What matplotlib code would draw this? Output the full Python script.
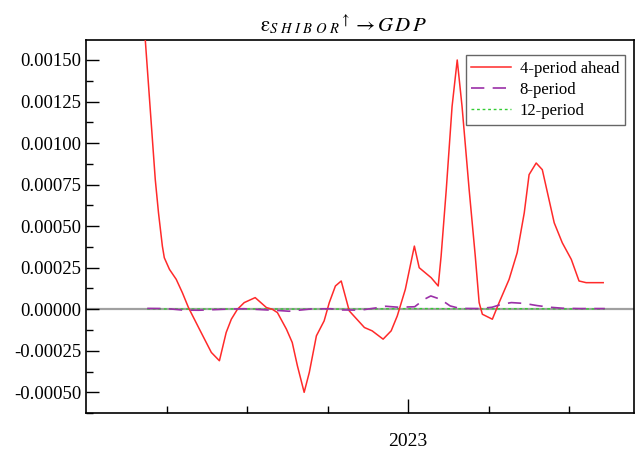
import numpy as np
import matplotlib
matplotlib.use("Agg")
import matplotlib.pyplot as plt

plt.rcParams["font.family"] = ["Liberation Serif", "DejaVu Serif"]
plt.rcParams["mathtext.fontset"] = "stix"

# 4-period ahead response (decimal year, value)
t_4 = [2022.178, 2022.184, 2022.215, 2022.225, 2022.237, 2022.243, 2022.259,
       2022.280, 2022.299, 2022.318, 2022.352, 2022.389, 2022.414, 2022.435,
       2022.451, 2022.470, 2022.491, 2022.525, 2022.560, 2022.578, 2022.594,
       2022.622, 2022.640, 2022.656, 2022.677, 2022.693, 2022.715, 2022.739,
       2022.755, 2022.774, 2022.792, 2022.817, 2022.864, 2022.888, 2022.922,
       2022.947, 2022.966, 2022.991, 2023.019, 2023.034, 2023.071, 2023.093,
       2023.102, 2023.118, 2023.136, 2023.152, 2023.167, 2023.189, 2023.208,
       2023.220, 2023.230, 2023.261, 2023.282, 2023.313, 2023.338, 2023.360,
       2023.375, 2023.397, 2023.416, 2023.453, 2023.478, 2023.506, 2023.530,
       2023.552, 2023.605]
v_4 = [0.00180, 0.00162, 0.00078, 0.00058, 0.00038, 0.00031, 0.00024,
       0.00018, 0.00010, 0.00001, -0.00012, -0.00026, -0.00031, -0.00014,
       -0.00006, 0.00000, 0.00004, 0.00007, 0.00001, 0.00000, -0.00002,
       -0.00012, -0.00020, -0.00034, -0.00050, -0.00038, -0.00016, -0.00007,
       0.00004, 0.00014, 0.00017, -0.00001, -0.00011, -0.00013, -0.00018,
       -0.00013, -0.00004, 0.00012, 0.00038, 0.00025, 0.00019, 0.00014,
       0.00032, 0.00072, 0.00122, 0.00150, 0.00122, 0.00072, 0.00032,
       0.00004, -0.00003, -0.00006, 0.00004, 0.00018, 0.00034, 0.00058,
       0.00081, 0.00088, 0.00084, 0.00052, 0.00040, 0.00030, 0.00017,
       0.00016, 0.00016]

# 8-period response
t_8 = [2022.19, 2022.25, 2022.30, 2022.35, 2022.43, 2022.49, 2022.56, 2022.60,
       2022.63, 2022.66, 2022.70, 2022.76, 2022.79, 2022.83, 2022.86, 2022.90,
       2022.93, 2022.97, 2023.02, 2023.05, 2023.07, 2023.10, 2023.13, 2023.16,
       2023.22, 2023.26, 2023.29, 2023.32, 2023.36, 2023.40, 2023.44, 2023.48,
       2023.53, 2023.61]
v_8 = [0.000005, 0.000004, -0.000005, -0.000006, 0.0, 0.000003, -0.000004,
       -0.000008, -0.000012, -0.000006, 0.000002, 0.000003, -0.000004,
       -0.000005, -0.000003, 0.000008, 0.000018, 0.000012, 0.000015, 0.00006,
       0.00008, 0.00006, 0.00002, 0.000005, 0.000004, 0.000012, 0.00003,
       0.00004, 0.000035, 0.000022, 0.000012, 0.000006, 0.000004, 0.000004]

# 12-period response
t_12 = [2022.19, 2022.35, 2022.50, 2022.65, 2022.80, 2022.95, 2023.07,
        2023.20, 2023.35, 2023.50, 2023.61]
v_12 = [0.000002, 0.000001, 0.000002, 0.000001, 0.000001, 0.000003,
        0.000004, 0.000002, 0.000003, 0.000002, 0.000002]

fig = plt.figure(figsize=(6.37, 4.5), dpi=100)
ax = fig.add_axes([0.135, 0.082, 0.86, 0.829])

ax.axhline(0, color="#a0a0a0", lw=1.6, zorder=1)
ax.plot(t_4, v_4, color="#ff2a2a", lw=1.1, label="4-period ahead", zorder=3)
ax.plot(t_8, v_8, color="#9b30a8", lw=1.2, dashes=(8, 5), label="8-period", zorder=3)
ax.plot(t_12, v_12, color="#33cc33", lw=1.0, dashes=(2, 2), label="12-period", zorder=2)

ax.set_xlim(2022.0, 2023.70)
ax.set_ylim(-0.000618, 0.00162)

ax.set_yticks(np.arange(-0.0005, 0.00151, 0.00025))
ax.set_yticks(np.arange(-0.000625, 0.0016, 0.000125), minor=True)
ax.yaxis.set_major_formatter(matplotlib.ticker.FormatStrFormatter("%.5f"))
ax.set_xticks([2023.0])
ax.set_xticklabels(["2023"])
ax.set_xticks([2022.25, 2022.5, 2022.75, 2023.25, 2023.5], minor=True)

ax.tick_params(axis="y", which="major", direction="in", length=9, width=1,
               labelsize=13.5, right=False)
ax.tick_params(axis="y", which="minor", direction="in", length=5, width=1, right=False)
ax.tick_params(axis="x", which="major", direction="in", length=10, width=1,
               labelsize=14, pad=14, top=False)
ax.tick_params(axis="x", which="minor", direction="in", length=5, width=1, top=False)

for s in ax.spines.values():
    s.set_linewidth(1.2)
    s.set_color("black")

ax.set_title(r"$\mathrm{ε}_{S\ H\ I\ B\ O\ R}{}^{\uparrow} \rightarrow G\,D\,P$",
             fontsize=15, pad=6, x=0.47)

leg = ax.legend(loc="upper right", bbox_to_anchor=(0.984, 0.96), fontsize=12,
                frameon=True, fancybox=False, handlelength=2.4, borderaxespad=0,
                borderpad=0.35, labelspacing=0.3, handletextpad=0.5)
leg.get_frame().set_edgecolor("#404040")
leg.get_frame().set_linewidth(1.0)

fig.savefig("out.png", dpi=100)
